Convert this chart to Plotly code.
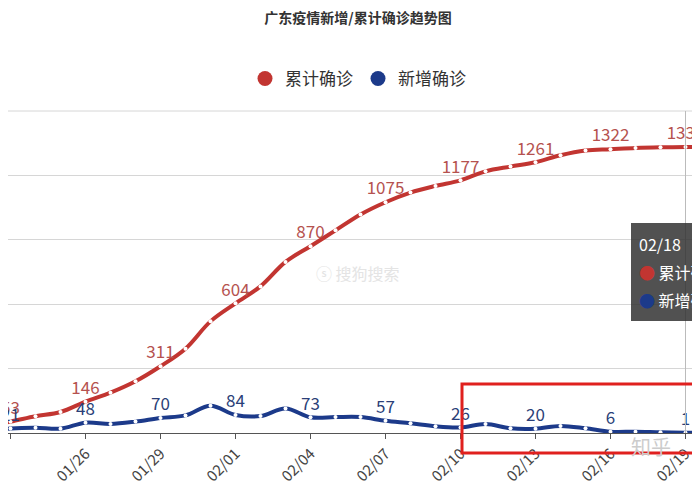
import plotly.graph_objects as go

dates = ["01/22", "01/23", "01/24", "01/25", "01/26", "01/27", "01/28", "01/29", "01/30", "01/31",
         "02/01", "02/02", "02/03", "02/04", "02/05", "02/06", "02/07", "02/08", "02/09", "02/10",
         "02/11", "02/12", "02/13", "02/14", "02/15", "02/16", "02/17", "02/18", "02/19", "02/20"]
total = [32, 53, 78, 98, 146, 188, 241, 311, 393, 520,
         604, 683, 797, 870, 944, 1018, 1075, 1120, 1151, 1177,
         1219, 1241, 1261, 1294, 1316, 1322, 1328, 1331, 1332, 1333]
new = [6, 21, 25, 20, 48, 42, 53, 70, 82, 127,
       84, 79, 114, 73, 74, 74, 57, 45, 31, 26,
       42, 22, 20, 33, 22, 6, 6, 3, 1, 1]

RED = "#c23531"
BLUE = "#1c3a8a"
idx = list(range(len(dates)))

def labels(vals):
    # only every 3rd point (the tick dates) gets a label
    return [str(v) if (i - 1) % 3 == 0 else "" for i, v in enumerate(vals)]

fig = go.Figure()
fig.add_trace(go.Scatter(x=idx, y=total, name="累计确诊", mode="lines+markers+text", showlegend=False,
                         line=dict(color=RED, width=4, shape="spline"),
                         marker=dict(color="white", size=4, line=dict(width=0)),
                         text=labels(total), textposition="top center",
                         textfont=dict(color="#b5524f", size=17), cliponaxis=False))
fig.add_trace(go.Scatter(x=idx, y=new, name="新增确诊", mode="lines+markers+text", showlegend=False,
                         line=dict(color=BLUE, width=4, shape="spline"),
                         marker=dict(color="white", size=4, line=dict(width=0)),
                         text=labels(new), textposition="top center",
                         textfont=dict(color="#2b3f78", size=17), cliponaxis=False))
# legend entries drawn as round dots
for name, c in [("累计确诊", RED), ("新增确诊", BLUE)]:
    fig.add_trace(go.Scatter(x=[None], y=[None], name=name, mode="markers",
                             marker=dict(color=c, size=15)))

def py(p):
    return (432 - p) / 322

shapes = [
    dict(type="line", xref="paper", yref="paper", x0=0, x1=1, y0=1, y1=1,
         line=dict(color="#d6d6d6", width=1)),
    dict(type="line", xref="x", yref="paper", x0=28, x1=28, y0=0, y1=1,
         line=dict(color="#bbbbbb", width=1)),
    dict(type="rect", xref="paper", yref="paper", x0=623 / 700, x1=1.05, y0=py(320), y1=py(222),
         fillcolor="rgba(50,50,50,0.85)", line=dict(width=0), layer="above"),
    dict(type="rect", xref="paper", yref="paper", x0=454 / 700, x1=1.05, y0=py(452), y1=py(383),
         line=dict(color="#e0201e", width=3), layer="above"),
]
annotations = [
    dict(xref="paper", yref="paper", x=629 / 700, y=py(243), text="02/18", showarrow=False,
         xanchor="left", font=dict(color="white", size=16)),
    dict(xref="paper", yref="paper", x=629 / 700, y=py(271), text="<span style='color:#c23531'>●</span> 累计确诊",
         showarrow=False, xanchor="left", font=dict(color="white", size=16)),
    dict(xref="paper", yref="paper", x=629 / 700, y=py(299), text="<span style='color:#1c3a8a'>●</span> 新增确诊",
         showarrow=False, xanchor="left", font=dict(color="white", size=16)),
    dict(xref="paper", yref="paper", x=0.5, y=py(272), text="ⓢ 搜狗搜索", showarrow=False,
         font=dict(color="#e4e4e4", size=16)),
    dict(xref="paper", yref="paper", x=665 / 700, y=py(462), text="知乎", showarrow=False,
         font=dict(color="#cccccc", size=20)),
]

fig.update_layout(
    width=700, height=500,
    margin=dict(l=0, r=0, t=103, b=75),
    paper_bgcolor="white", plot_bgcolor="white",
    font=dict(family="Noto Sans CJK SC, sans-serif", color="#333"),
    title=dict(text="<b>广东疫情新增/累计确诊趋势图</b>", x=0.5, xanchor="center",
               yref="container", y=1 - 10 / 500, yanchor="middle", font=dict(size=14)),
    legend=dict(orientation="h", x=0.5, xanchor="center", y=py(78), yanchor="middle",
                font=dict(size=17)),
    xaxis=dict(range=[0.9, 28.9], tickmode="array", tickvals=idx[1::3], ticktext=dates[1::3],
               tickangle=-45, showgrid=False, showline=True, linecolor="#555", ticks="outside",
               ticklen=5, tickcolor="#555", tickfont=dict(size=15, color="#444")),
    yaxis=dict(range=[0, 1500], dtick=300, showticklabels=False, gridcolor="#d6d6d6",
               zeroline=False),
    shapes=shapes, annotations=annotations,
)
fig.write_html("out.html")
